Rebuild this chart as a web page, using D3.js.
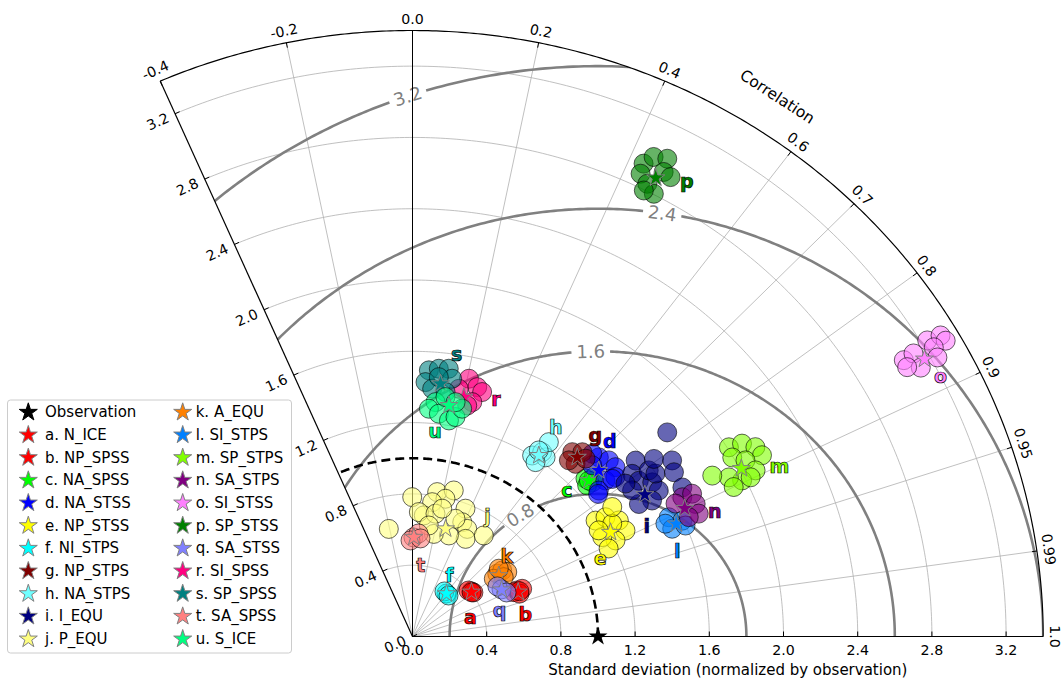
<!DOCTYPE html>
<html>
<head>
<meta charset="utf-8">
<script src="https://cdn.jsdelivr.net/npm/d3@7/dist/d3.min.js"></script>
<style>
  body { margin: 0; background: #fff; }
  svg { font-family: "DejaVu Sans", sans-serif; }
</style>
</head>
<body>
<svg id="chart" width="1063" height="684"></svg>
<script>
(function() {
  'use strict';

  //---DATA
  var modelNames = ['a. N_ICE', 'b. NP_SPSS', 'c. NA_SPSS', 'd. NA_STSS', 'e. NP_STSS', 'f. NI_STPS',
    'g. NP_STPS', 'h. NA_STPS', 'i. I_EQU', 'j. P_EQU', 'k. A_EQU', 'l. SI_STPS', 'm. SP_STPS',
    'n. SA_STPS', 'o. SI_STSS', 'p. SP_STSS', 'q. SA_STSS', 'r. SI_SPSS', 's. SP_SPSS', 't. SA_SPSS', 'u. S_ICE'];
  var modelLetters = ['a', 'b', 'c', 'd', 'e', 'f', 'g', 'h', 'i', 'j', 'k', 'l', 'm', 'n', 'o', 'p', 'q', 'r', 's', 't', 'u'];
  var modelColors = ['#ff0000', '#ff0000', '#00ff00', '#0000ff', '#ffff00', '#00ffff', '#800000', '#70ffff',
    '#000080', '#ffff80', '#ff8000', '#0080ff', '#80ff00', '#800080', '#ff80ff', '#008000', '#8080ff',
    '#ff0080', '#008080', '#ff8080', '#00ff80'];

  // ensemble mean (star)
  var meanStd = [0.404, 0.622, 1.292, 1.370, 1.217, 0.302, 1.342, 1.223, 1.484, 0.630, 0.577, 1.556, 2.008,
    1.634, 3.169, 2.888, 0.547, 1.371, 1.426, 0.557, 1.311];
  var meanCorr = [0.787, 0.916, 0.736, 0.733, 0.877, 0.606, 0.662, 0.557, 0.844, 0.283, 0.806, 0.914, 0.883,
    0.898, 0.871, 0.454, 0.878, 0.202, 0.106, 0.013, 0.150];

  // ensemble members (circles)
  var memberStd = [
    [0.406, 0.397, 0.411, 0.404],
    [0.620, 0.649, 0.600, 0.625, 0.630],
    [1.286, 1.299, 1.267, 1.324, 1.292],
    [1.421, 1.448, 1.449, 1.359, 1.296, 1.413, 1.411, 1.394, 1.364, 1.281],
    [1.182, 1.237, 1.289, 1.293, 1.220, 1.165, 1.249, 1.167, 1.299, 1.167],
    [0.303, 0.306, 0.301],
    [1.346, 1.381, 1.308, 1.299, 1.366],
    [1.203, 1.248, 1.235, 1.315, 1.182, 1.246],
    [1.556, 1.495, 1.501, 1.555, 1.560, 1.500, 1.429, 1.440, 1.578, 1.597, 1.788, 1.639, 1.713, 1.684, 1.433, 1.678],
    [0.782, 0.617, 0.821, 0.849, 0.793, 0.761, 0.682, 0.699, 0.700, 0.772, 0.695, 0.672, 0.618, 0.685, 0.600,
      0.587, 0.700, 0.735, 0.629],
    [0.577, 0.609, 0.626, 0.545, 0.594, 0.601],
    [1.535, 1.593, 1.525, 1.598, 1.503],
    [2.009, 2.080, 2.132, 2.141, 1.995, 2.049, 2.071, 1.981, 1.925, 1.851, 1.924, 2.030],
    [1.651, 1.707, 1.698, 1.690, 1.602, 1.633],
    [3.069, 3.133, 3.234, 3.310, 3.319, 3.245, 3.128, 3.065, 3.234],
    [2.931, 2.988, 3.012, 2.873, 2.937, 2.929, 2.838, 2.804, 2.796],
    [0.548, 0.537, 0.564],
    [1.478, 1.442, 1.422, 1.354, 1.412, 1.329],
    [1.496, 1.509, 1.515, 1.429, 1.394, 1.462, 1.383, 1.462],
    [0.556, 0.579, 0.539, 0.552],
    [1.321, 1.281, 1.258, 1.228, 1.253, 1.306, 1.355, 1.335]
  ];
  var memberCorr = [
    [0.782, 0.760, 0.799, 0.790],
    [0.909, 0.911, 0.910, 0.923, 0.915],
    [0.725, 0.746, 0.743, 0.738, 0.736],
    [0.707, 0.731, 0.755, 0.765, 0.775, 0.774, 0.687, 0.773, 0.710, 0.781],
    [0.835, 0.841, 0.863, 0.888, 0.897, 0.878, 0.862, 0.860, 0.829, 0.906],
    [0.605, 0.563, 0.645],
    [0.640, 0.663, 0.672, 0.649, 0.683],
    [0.536, 0.560, 0.581, 0.559, 0.561, 0.546],
    [0.773, 0.792, 0.813, 0.831, 0.851, 0.861, 0.854, 0.822, 0.807, 0.820, 0.768, 0.794, 0.817, 0.837, 0.801, 0.867],
    [-0.002, -0.207, 0.162, 0.262, 0.224, 0.139, 0.089, 0.049, 0.177, 0.370, 0.386, 0.439, 0.463, 0.561, 0.327,
      0.196, 0.331, 0.218, 0.140],
    [0.792, 0.794, 0.816, 0.804, 0.828, 0.774],
    [0.900, 0.913, 0.918, 0.921, 0.907],
    [0.849, 0.854, 0.867, 0.880, 0.864, 0.876, 0.893, 0.897, 0.886, 0.873, 0.900, 0.898],
    [0.881, 0.883, 0.899, 0.913, 0.885, 0.912],
    [0.863, 0.862, 0.858, 0.860, 0.866, 0.866, 0.876, 0.870, 0.875],
    [0.425, 0.435, 0.456, 0.428, 0.461, 0.475, 0.446, 0.464, 0.446],
    [0.876, 0.852, 0.899],
    [0.206, 0.242, 0.264, 0.238, 0.177, 0.222],
    [0.059, 0.094, 0.129, 0.049, 0.076, 0.146, 0.129, 0.097],
    [0.009, 0.056, -0.020, 0.078],
    [0.094, 0.069, 0.113, 0.160, 0.185, 0.205, 0.131, 0.174]
  ];

  var obsStd = 1.0;
  var stdMax = 3.4;
  var stdTicks = [0.0, 0.4, 0.8, 1.2, 1.6, 2.0, 2.4, 2.8, 3.2];
  var corrTicks = [-0.4, -0.2, 0.0, 0.2, 0.4, 0.6, 0.7, 0.8, 0.9, 0.95, 0.99, 1.0];
  var corrTickLabels = ['-0.4', '-0.2', '0.0', '0.2', '0.4', '0.6', '0.7', '0.8', '0.9', '0.95', '0.99', '1.0'];
  var rmsLevels = [0.8, 1.6, 2.4, 3.2];

  //---LAYOUT
  var ox = 412.5, oy = 636.5;
  var rmsLabelAngle = [121.6, 91.4, 81.7, 108.7]; // deg round (obs,0)
  var labelShift = [[-1, 25], [7, 22], [-22, 9], [11, -29], [-10, 26], [3, -19], [18, -22], [17, -28],
    [2, 31], [42, -13], [8, -20], [1, 27], [38, -3], [30, 3], [16, 17], [31, 3], [-2, 20], [32, 2],
    [16, -30], [7, 28], [-14, 26]];

  //----SCALES
  var xs = d3.scaleLinear().domain([0, stdMax]).range([0, 630.7]);
  var ys = d3.scaleLinear().domain([0, stdMax]).range([0, 606]);
  var kx = xs(1) - xs(0), ky = ys(1) - ys(0);
  var thMax = Math.acos(-0.4);

  function ptXY(x, y) { return [ox + xs(x), oy - ys(y)]; }
  function pt(std, corr) {
    var t = Math.acos(corr);
    return ptXY(std * Math.cos(t), std * Math.sin(t));
  }
  function arcPts(r, t0, t1, n) {
    return d3.range(n + 1).map(function(i) {
      var t = t0 + (t1 - t0) * i / n;
      return ptXY(r * Math.cos(t), r * Math.sin(t));
    });
  }
  var line = d3.line();
  var fmt1 = d3.format('.1f');

  var svg = d3.select('#chart');
  var defs = svg.append('defs');

  //---SECTOR CLIP
  var sector = [[ox, oy]].concat(arcPts(stdMax, thMax, 0, 300));
  defs.append('clipPath').attr('id', 'sector')
    .append('path').attr('d', line(sector) + 'Z');

  //---GRID
  var grid = svg.append('g').attr('class', 'grid');
  stdTicks.filter(function(d) { return d > 0; }).forEach(function(r) {
    grid.append('path')
      .attr('d', line(arcPts(r, 0, thMax, 200)))
      .attr('fill', 'none').attr('stroke', '#b0b0b0').attr('stroke-width', 0.8);
  });
  corrTicks.filter(function(c) { return c > -0.4 && c < 1 && c !== 0; }).forEach(function(c) {
    grid.append('path')
      .attr('d', line([[ox, oy], pt(stdMax, c)]))
      .attr('fill', 'none').attr('stroke', '#b0b0b0').attr('stroke-width', 0.8);
  });

  //---RMS CONTOURS
  var rmsG = svg.append('g').attr('clip-path', 'url(#sector)');
  var rmsLab = svg.append('g');
  rmsLevels.forEach(function(R, k) {
    var phiL = rmsLabelAngle[k] * Math.PI / 180;
    var dx = -kx * R * Math.sin(phiL), dy = -ky * R * Math.cos(phiL);
    var speed = Math.sqrt(dx * dx + dy * dy);
    var txt = fmt1(R);
    var hw = txt.length * 0.53 * 18 / 2 + 5;
    var gap = hw / speed;
    function seg(p0, p1) {
      return d3.range(201).map(function(i) {
        var p = p0 + (p1 - p0) * i / 200;
        return ptXY(obsStd + R * Math.cos(p), R * Math.sin(p));
      });
    }
    [[0, phiL - gap], [phiL + gap, Math.PI]].forEach(function(s) {
      rmsG.append('path')
        .attr('d', line(seg(s[0], s[1])))
        .attr('fill', 'none').attr('stroke', '#808080').attr('stroke-width', 2.6);
    });
    var pos = ptXY(obsStd + R * Math.cos(phiL), R * Math.sin(phiL));
    var ang = Math.atan2(dy, dx) * 180 / Math.PI;
    if (ang > 90) ang -= 180;
    if (ang < -90) ang += 180;
    rmsLab.append('text')
      .attr('transform', 'translate(' + pos[0] + ',' + pos[1] + ') rotate(' + ang + ')')
      .attr('text-anchor', 'middle').attr('dominant-baseline', 'central')
      .attr('font-size', 18).attr('fill', '#808080')
      .text(txt);
  });

  //---OBSERVATION STD ARC
  svg.append('path')
    .attr('d', line(arcPts(obsStd, 0, thMax, 200)))
    .attr('fill', 'none').attr('stroke', '#000').attr('stroke-width', 2.6)
    .attr('stroke-dasharray', '9,5');

  //---AXES
  var ax = svg.append('g').attr('class', 'axes');
  ax.append('path').attr('d', line(arcPts(stdMax, 0, thMax, 300)))
    .attr('fill', 'none').attr('stroke', '#000').attr('stroke-width', 1.2);
  ax.append('path').attr('d', line([[ox, oy], pt(stdMax, -0.4)]))
    .attr('stroke', '#000').attr('stroke-width', 1.2);
  ax.append('path').attr('d', line([[ox, oy], pt(stdMax, 1)]))
    .attr('stroke', '#000').attr('stroke-width', 1.2);
  ax.append('path').attr('d', line([[ox, oy], pt(stdMax, 0)]))
    .attr('stroke', '#000').attr('stroke-width', 1);

  // x axis ticks
  stdTicks.forEach(function(s) {
    var p = pt(s, 1);
    ax.append('line').attr('x1', p[0]).attr('x2', p[0]).attr('y1', p[1]).attr('y2', p[1] - 5)
      .attr('stroke', '#000').attr('stroke-width', 1);
    ax.append('text').attr('x', p[0]).attr('y', p[1] + 18)
      .attr('text-anchor', 'middle').attr('font-size', 14.2).text(fmt1(s));
  });

  // left axis ticks
  var lp = pt(stdMax, -0.4);
  var ldx = lp[0] - ox, ldy = lp[1] - oy, ll = Math.sqrt(ldx * ldx + ldy * ldy);
  var ux = ldx / ll, uy = ldy / ll;
  var nx = uy, ny = -ux; // outward normal (left)
  var lrot = Math.atan2(ux, -uy) * 180 / Math.PI;
  stdTicks.forEach(function(s) {
    var p = pt(s, -0.4);
    ax.append('line').attr('x1', p[0]).attr('y1', p[1])
      .attr('x2', p[0] - nx * 5).attr('y2', p[1] - ny * 5)
      .attr('stroke', '#000').attr('stroke-width', 1);
    var q = [p[0] + nx * 19, p[1] + ny * 19];
    ax.append('text')
      .attr('transform', 'translate(' + q[0] + ',' + q[1] + ') rotate(' + (-Math.abs(lrot)) + ')')
      .attr('text-anchor', 'middle').attr('dominant-baseline', 'central')
      .attr('font-size', 14.2).text(fmt1(s));
  });

  // correlation ticks on outer arc
  corrTicks.forEach(function(c, i) {
    var t = Math.acos(c);
    var p = pt(stdMax, c);
    var cx = Math.cos(t), cy = -Math.sin(t);
    ax.append('line').attr('x1', p[0]).attr('y1', p[1])
      .attr('x2', p[0] - cx * 5).attr('y2', p[1] - cy * 5)
      .attr('stroke', '#000').attr('stroke-width', 1);
    ax.append('text')
      .attr('transform', 'translate(' + (p[0] + cx * 12) + ',' + (p[1] + cy * 12) + ') rotate(' +
        (90 - t * 180 / Math.PI) + ')')
      .attr('text-anchor', 'middle').attr('dominant-baseline', 'central')
      .attr('font-size', 14.2).text(corrTickLabels[i]);
  });

  // axis titles
  var tc = 57 * Math.PI / 180;
  var cp = ptXY(3.61 * Math.cos(tc), 3.61 * Math.sin(tc));
  ax.append('text')
    .attr('transform', 'translate(' + cp[0] + ',' + cp[1] + ') rotate(33)')
    .attr('text-anchor', 'middle').attr('dominant-baseline', 'central')
    .attr('font-size', 15.5).text('Correlation');
  ax.append('text')
    .attr('x', ox + xs(stdMax / 2)).attr('y', oy + 38)
    .attr('text-anchor', 'middle').attr('font-size', 15)
    .text('Standard deviation (normalized by observation)');

  //---MODELS
  var starPath = d3.symbol().type(d3.symbolStar).size(101)();
  var models = svg.append('g').attr('class', 'models');
  modelNames.forEach(function(name, i) {
    var g = models.append('g').attr('class', 'model_g');
    memberStd[i].forEach(function(s, j) {
      var p = pt(s, memberCorr[i][j]);
      g.append('circle').attr('cx', p[0]).attr('cy', p[1]).attr('r', 9.5)
        .attr('fill', modelColors[i]).attr('fill-opacity', 0.6)
        .attr('stroke', '#000').attr('stroke-opacity', 0.6).attr('stroke-width', 1);
    });
    var m = pt(meanStd[i], meanCorr[i]);
    g.append('path').attr('d', starPath)
      .attr('transform', 'translate(' + m[0] + ',' + m[1] + ')')
      .attr('fill', modelColors[i]).attr('stroke', '#808080').attr('stroke-width', 1);
  });
  modelNames.forEach(function(name, i) {
    var m = pt(meanStd[i], meanCorr[i]);
    models.append('text')
      .attr('x', m[0] + labelShift[i][0]).attr('y', m[1] + labelShift[i][1])
      .attr('text-anchor', 'middle').attr('dominant-baseline', 'central')
      .attr('font-size', 19).attr('font-weight', 'bold').attr('fill', modelColors[i])
      .attr('stroke', '#000').attr('stroke-width', 0.7)
      .text(modelLetters[i]);
  });

  // observation star
  var obs = pt(obsStd, 1);
  svg.append('path').attr('d', d3.symbol().type(d3.symbolStar).size(112)())
    .attr('transform', 'translate(' + obs[0] + ',' + obs[1] + ')')
    .attr('fill', '#000');

  //---LEGEND
  var leg = svg.append('g').attr('class', 'legend');
  leg.append('rect').attr('x', 7.5).attr('y', 400).attr('width', 284).attr('height', 253)
    .attr('rx', 3).attr('fill', '#fff').attr('fill-opacity', 0.8)
    .attr('stroke', '#cccccc').attr('stroke-width', 1);
  var legNames = ['Observation'].concat(modelNames);
  var legColors = ['#000'].concat(modelColors);
  legNames.forEach(function(name, i) {
    var col = Math.floor(i / 11), row = i % 11;
    var sx = col === 0 ? 28.3 : 182.7;
    var tx = col === 0 ? 45 : 195.7;
    var y = 412.3 + row * 22.67;
    leg.append('path').attr('d', starPath)
      .attr('transform', 'translate(' + sx + ',' + y + ')')
      .attr('fill', legColors[i]).attr('stroke', i === 0 ? '#000' : '#808080').attr('stroke-width', 1);
    leg.append('text').attr('x', tx).attr('y', y)
      .attr('dominant-baseline', 'central').attr('font-size', 15).text(name);
  });
})();
</script>
</body>
</html>
